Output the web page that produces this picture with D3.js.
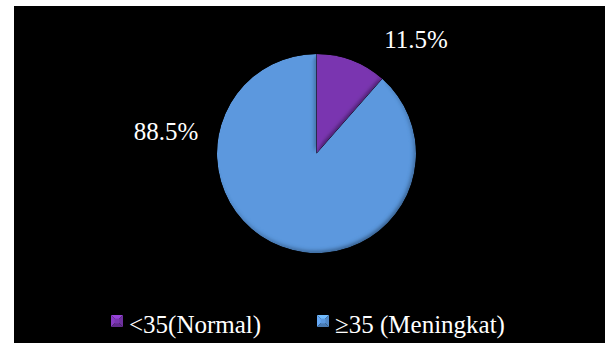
<!DOCTYPE html>
<html>
<head>
<meta charset="utf-8">
<script src="https://cdn.jsdelivr.net/npm/d3@7"></script>
</head>
<body style="margin:0">
<svg id="chart" width="611" height="343"></svg>
<script>
// Share of respondents by category
const categories = ["<35(Normal)", "\u226535 (Meningkat)"];
const values = [11.5, 88.5];
const valueLabels = ["11.5%", "88.5%"];
const colors = ["#7a36b0", "#5b98de"];

const W = 611, H = 343;
const svg = d3.select("#chart");
const FONT = '"Times New Roman"';

// Black chart area
svg.append("rect").attr("x", 14).attr("y", 6).attr("width", 591).attr("height", H - 6).attr("fill", "#000");

// Soft bevel for the slices
const defs = svg.append("defs");
const f = defs.append("filter").attr("id", "bevel").attr("x", "-10%").attr("y", "-10%").attr("width", "120%").attr("height", "120%");
f.append("feGaussianBlur").attr("in", "SourceAlpha").attr("stdDeviation", 2.5).attr("result", "blur");
f.append("feDiffuseLighting").attr("in", "blur").attr("surfaceScale", 2.5).attr("diffuseConstant", 1.155)
  .attr("lighting-color", "#fff").attr("result", "light")
  .append("feDistantLight").attr("azimuth", 235).attr("elevation", 60);
f.append("feComposite").attr("in", "light").attr("in2", "SourceGraphic").attr("operator", "arithmetic")
  .attr("k1", 1).attr("k2", 0).attr("k3", 0).attr("k4", 0).attr("result", "lit");
f.append("feComposite").attr("in", "lit").attr("in2", "SourceAlpha").attr("operator", "in");

const cx = 316.5, cy = 153.5, R = 99.5;
const pie = d3.pie().sort(null).value(d => d);
const arc = d3.arc().innerRadius(0).outerRadius(R);
const arcs = pie(values);

const g = svg.append("g").attr("transform", `translate(${cx},${cy})`);
g.selectAll("path.slice").data(arcs).join("path")
  .attr("class", "slice")
  .attr("d", arc)
  .attr("fill", (d, i) => colors[i])
  .attr("filter", "url(#bevel)");

// Value labels placed outside the pie
const labelPos = [[416, 48], [166, 140]];
svg.selectAll("text.val").data(arcs).join("text")
  .attr("class", "val")
  .attr("x", (d, i) => labelPos[i][0])
  .attr("y", (d, i) => labelPos[i][1])
  .attr("text-anchor", "middle")
  .attr("font-size", 25)
  .attr("fill", "#fff")
  .style("font-family", FONT)
  .text((d, i) => valueLabels[i]);

// Legend with pyramid-shaded markers
const legendX = [111, 317];
const ms = 12, my = 315;
const lg = svg.selectAll("g.leg").data(categories).join("g")
  .attr("class", "leg")
  .attr("transform", (d, i) => `translate(${legendX[i]},${my})`);

function shade(c, k) { return d3.color(c)[k > 0 ? "brighter" : "darker"](Math.abs(k)).formatHex(); }
const tri = [
  [[0,0],[ms,0],[ms/2,ms/2], 0.6],
  [[0,0],[0,ms],[ms/2,ms/2], 0.3],
  [[ms,0],[ms,ms],[ms/2,ms/2], -0.3],
  [[0,ms],[ms,ms],[ms/2,ms/2], -0.6]
];
lg.each(function(d, i) {
  const sel = d3.select(this);
  tri.forEach(t => {
    sel.append("path")
      .attr("d", `M${t[0]}L${t[1]}L${t[2]}Z`)
      .attr("fill", shade(colors[i], t[3]));
  });
  sel.append("rect").attr("x", ms * 0.3).attr("y", ms * 0.3).attr("width", ms * 0.4).attr("height", ms * 0.4)
    .attr("fill", colors[i]);
  // the comparison sign sits in its own span, the rest of the label follows
  const t = sel.append("text")
    .attr("x", ms + 6)
    .attr("y", 18)
    .attr("font-size", 25)
    .attr("fill", "#fff")
    .style("font-family", FONT);
  t.append("tspan").text(d.slice(0, 1));
  t.append("tspan").text(d.slice(1));
});
</script>
</body>
</html>
